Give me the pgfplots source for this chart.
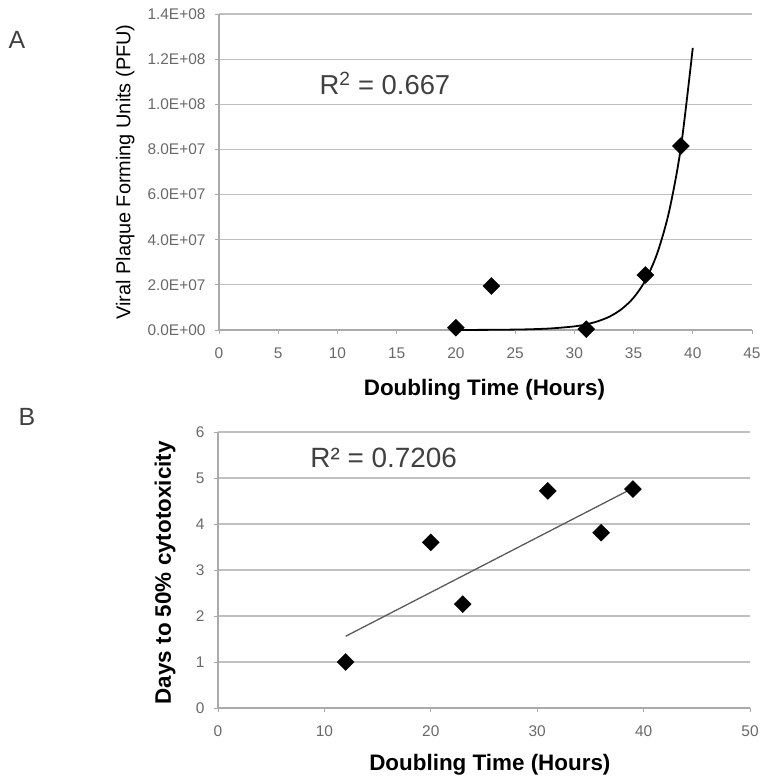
\documentclass[border=0pt]{standalone}
\usepackage{pgfplots}
\pgfplotsset{compat=1.18}
\usepackage{fontspec}
\setmainfont{Liberation Sans}

\definecolor{gridgray}{RGB}{192,192,192}
\definecolor{axisgray}{RGB}{170,170,170}
\definecolor{tickgray}{RGB}{105,105,105}
\definecolor{rtext}{RGB}{64,64,64}
\definecolor{fitgray}{RGB}{90,90,90}

\pgfplotsset{
  excelstyle/.style={
    scale only axis,
    anchor=south west,
    axis x line*=bottom,
    axis y line*=left,
    axis line style={draw=axisgray, line width=1.2bp},
    ymajorgrids,
    grid style={draw=gridgray, line width=1.2bp},
    tick align=outside,
    major tick length=4bp,
    tick style={draw=axisgray, line width=1bp},
    tick label style={font=\fontsize{15.5}{15.5}\selectfont, text=tickgray},
    xticklabel style={yshift=-10bp},
    yticklabel style={xshift=-6bp},
    /pgf/number format/assume math mode=true,
    scaled ticks=false,
    clip=false,
    xlabel style={font=\fontsize{22.5}{22.5}\selectfont\bfseries, anchor=center},
  },
  diam/.style={only marks, mark=square*, mark size=6bp,
    mark options={rotate=45, fill=black, draw=black}},
}

\begin{document}
\begin{tikzpicture}
\useasboundingbox (0,0) rectangle (767bp,-783bp);

\node[font=\fontsize{25}{25}\selectfont, text=rtext] at (17bp,-40bp) {A};
\node[font=\fontsize{25}{25}\selectfont, text=rtext] at (27bp,-417bp) {B};

% Panel A
\begin{axis}[
  excelstyle,
  at={(219bp,-330bp)},
  width=533bp, height=316bp,
  xmin=0, xmax=45, ymin=0, ymax=1.4e8,
  xtick={0,5,10,15,20,25,30,35,40,45},
  ytick={0,2e7,4e7,6e7,8e7,1e8,1.2e8,1.4e8},
  yticklabels={0.0E+00,2.0E+07,4.0E+07,6.0E+07,8.0E+07,1.0E+08,1.2E+08,1.4E+08},
  xlabel={Doubling Time (Hours)},
  xlabel style={at={(axis description cs:0.498,-0.19)}},
  ylabel={Viral Plaque Forming Units (PFU)},
  ylabel style={font=\fontsize{20}{20}\selectfont, at={(axis description cs:-0.176,0.5)}, anchor=center},
]
\addplot[black, line width=1.8bp, smooth] coordinates {
  (20,2.1e4)(22,5e4)(24,1.2e5)(26,2.9e5)(28,6.9e5)(30,1.6e6)(31,2.5e6)
  (32,3.9e6)(33,6.0e6)(34,9.3e6)(35,1.43e7)(36,2.2e7)(37,3.4e7)
  (38,5.25e7)(39,8.1e7)(40,1.25e8)
};
\addplot[diam] coordinates {
  (20,1.0e6)(23,1.95e7)(31,0.4e6)(36,2.44e7)(39,8.15e7)
};
\node[anchor=base west, font=\fontsize{27.5}{27.5}\selectfont, text=rtext]
  at (rel axis cs:0.182,0.744) {R\textsuperscript{2} = 0.667};
\end{axis}

% Panel B
\begin{axis}[
  excelstyle,
  at={(218bp,-708bp)},
  width=532bp, height=276bp,
  xmin=0, xmax=50, ymin=0, ymax=6,
  xtick={0,10,20,30,40,50},
  ytick={0,1,2,3,4,5,6},
  xlabel={Doubling Time (Hours)},
  xlabel style={at={(axis description cs:0.511,-0.205)}},
  ylabel={Days to 50\% cytotoxicity},
  ylabel style={font=\fontsize{22.5}{22.5}\selectfont\bfseries, at={(axis description cs:-0.0996,0.49)}, anchor=center},
]
\addplot[fitgray, line width=1.3bp] coordinates {(12,1.56)(39,4.78)};
\addplot[diam] coordinates {
  (12,1.0)(20,3.6)(23,2.26)(31,4.72)(36,3.81)(39,4.76)
};
\node[anchor=base west, font=\fontsize{28}{28}\selectfont, text=rtext]
  at (rel axis cs:0.167,0.873) {R² = 0.7206};
\end{axis}
\end{tikzpicture}
\end{document}
